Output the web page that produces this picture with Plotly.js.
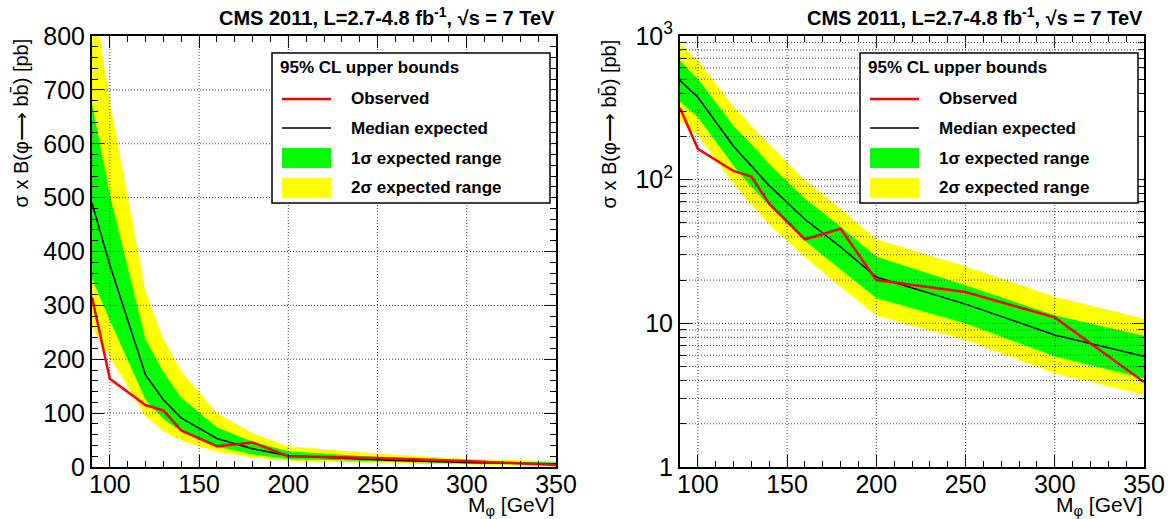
<!DOCTYPE html>
<html>
<head>
<meta charset="utf-8">
<script src="https://cdn.plot.ly/plotly-3.0.1.min.js"></script>
<style>
  html, body { margin: 0; padding: 0; background: #ffffff; }
  #chart { width: 1172px; height: 519px; }
</style>
</head>
<body>
<div id="chart"></div>
<script>
// ---- data ----
const mass = [90, 100, 120, 130, 140, 160, 180, 200, 250, 300, 350];
const observed = [315, 164, 115, 105, 68, 38.5, 45.5, 20, 16.5, 11, 3.9];
const expectedMedian = [490, 375, 171, 125, 91, 53, 34, 21, 13.6, 8.3, 5.9];
const sigma1Low = [350, 272, 125, 89, 66, 37.5, 23.7, 15, 10, 5.9, 4.15];
const sigma1High = [675, 505, 237, 177, 129, 74, 47, 29.2, 18.4, 11.4, 8.2];
const sigma2Low = [259, 203, 94, 67, 49, 29, 18, 11.4, 7.7, 4.5, 3.2];
const sigma2High = [890, 678, 325, 238, 178, 100, 63, 38.6, 25, 15.4, 10.8];

const linTickVals = [0, 100, 200, 300, 400, 500, 600, 700, 800];
const logTickVals = [1, 10, 100, 1000];
const logTickText = ['1', '10', '10<sup>2</sup>', '10<sup>3</sup>'];
const xTickVals = [100, 150, 200, 250, 300, 350];

const titleText = 'CMS 2011, L=2.7-4.8 fb<sup>-1</sup>, √s = 7 TeV';
const yTitleText = 'σ x B(φ⟶ bb\u0304) [pb]';
const xTitleText = 'M<sub>φ</sub> [GeV]';
const legendHeader = '95% CL upper bounds';
const legendLabels = ['Observed', 'Median expected', '1σ expected range', '2σ expected range'];

// ---- geometry ----
const W = 1172, H = 519;
const px = v => v / W;
const py = v => 1 - v / H;
const FONT = 'Liberation Sans, Arial, Helvetica, sans-serif';
const plots = [
  {xa: 'x', ya: 'y', left: 92, right: 556},
  {xa: 'x2', ya: 'y2', left: 680, right: 1144}
];
const TOP = 36, BOTTOM = 467;

const GREEN = '#00ff00', YELLOW = '#ffff00', RED = '#ff0000';

function band(lo, hi) {
  return {
    x: mass.concat(mass.slice().reverse()),
    y: hi.concat(lo.slice().reverse())
  };
}

const traces = [];
plots.forEach(p => {
  const b2 = band(sigma2Low, sigma2High);
  const b1 = band(sigma1Low, sigma1High);
  traces.push({x: b2.x, y: b2.y, xaxis: p.xa, yaxis: p.ya, type: 'scatter', mode: 'lines',
    fill: 'toself', fillcolor: YELLOW, line: {width: 0, color: YELLOW}, hoverinfo: 'skip', showlegend: false});
  traces.push({x: b1.x, y: b1.y, xaxis: p.xa, yaxis: p.ya, type: 'scatter', mode: 'lines',
    fill: 'toself', fillcolor: GREEN, line: {width: 0, color: GREEN}, hoverinfo: 'skip', showlegend: false});
  traces.push({x: mass, y: expectedMedian, xaxis: p.xa, yaxis: p.ya, type: 'scatter', mode: 'lines',
    line: {color: '#000000', width: 1.5}, showlegend: false});
  traces.push({x: mass, y: observed, xaxis: p.xa, yaxis: p.ya, type: 'scatter', mode: 'lines',
    line: {color: RED, width: 2.5}, showlegend: false});
});

const tickFont = {family: FONT, size: 25, color: '#000'};
function xAxis(p, yanchor) {
  return {
    domain: [px(p.left), px(p.right)], anchor: yanchor, range: [90, 350],
    tickmode: 'array', tickvals: xTickVals,
    ticks: 'inside', ticklen: 12, tickwidth: 1, tickcolor: '#000',
    showline: true, linewidth: 2, linecolor: '#000', mirror: 'allticks',
    showgrid: false, zeroline: false, tickfont: tickFont, layer: 'above traces',
    ticklabelstandoff: -6,
    minor: {dtick: 10, tick0: 0, ticks: 'inside', ticklen: 6, tickwidth: 1, tickcolor: '#000', showgrid: false},
    fixedrange: true, automargin: false
  };
}
const yDomain = [py(BOTTOM), py(TOP)];

const layout = {
  width: W, height: H,
  margin: {l: 0, r: 0, t: 0, b: 0, pad: 0},
  paper_bgcolor: '#ffffff', plot_bgcolor: '#ffffff',
  showlegend: false,
  xaxis: xAxis(plots[0], 'y'),
  xaxis2: xAxis(plots[1], 'y2'),
  yaxis: {
    domain: yDomain, anchor: 'x', range: [0, 800],
    tickmode: 'array', tickvals: linTickVals,
    ticks: 'inside', ticklen: 12, tickwidth: 1, tickcolor: '#000',
    showline: true, linewidth: 2, linecolor: '#000', mirror: 'allticks',
    showgrid: false, zeroline: false, tickfont: tickFont, layer: 'above traces',
    minor: {dtick: 20, tick0: 0, ticks: 'inside', ticklen: 6, tickwidth: 1, tickcolor: '#000', showgrid: false},
    fixedrange: true, automargin: false
  },
  yaxis2: {
    domain: yDomain, anchor: 'x2', type: 'log', range: [0, 3],
    tickmode: 'array', tickvals: logTickVals, ticktext: logTickText,
    ticks: 'inside', ticklen: 12, tickwidth: 1, tickcolor: '#000',
    showline: true, linewidth: 2, linecolor: '#000', mirror: 'allticks',
    showgrid: false, zeroline: false, tickfont: tickFont, layer: 'above traces',
    minor: {dtick: 'D1', ticks: 'inside', ticklen: 6, tickwidth: 1, tickcolor: '#000', showgrid: false},
    fixedrange: true, automargin: false
  },
  shapes: [],
  annotations: []
};

// ---- dotted grid drawn above the bands (as ROOT does) ----
const gridLine = {color: '#444', width: 1, dash: '1px,2px'};
plots.forEach((p, i) => {
  xTickVals.forEach(v => {
    if (v < 350) layout.shapes.push({type: 'line', layer: 'above', xref: p.xa, yref: p.ya + ' domain',
      x0: v, x1: v, y0: 0, y1: 1, line: gridLine});
  });
});
linTickVals.forEach(v => {
  if (v > 0 && v < 800) layout.shapes.push({type: 'line', layer: 'above', xref: 'x domain', yref: 'y',
    x0: 0, x1: 1, y0: v, y1: v, line: gridLine});
});
[1, 10, 100].forEach(dec => {
  for (let k = 1; k <= 9; k++) {
    const v = dec * k;
    if (v > 1 && v < 1000) layout.shapes.push({type: 'line', layer: 'above', xref: 'x2 domain', yref: 'y2',
      x0: 0, x1: 1, y0: v, y1: v, line: gridLine});
  }
});

// ---- titles ----
plots.forEach(p => {
  layout.annotations.push({text: '<b>' + titleText + '</b>', xref: 'paper', yref: 'paper',
    x: px(p.right + 1), y: py(17), xanchor: 'right', yanchor: 'middle', showarrow: false,
    font: {family: FONT, size: 20, color: '#000'}});
  layout.annotations.push({text: yTitleText, xref: 'paper', yref: 'paper', textangle: -90,
    x: px(p.left - 72), y: py(37), xanchor: 'center', yanchor: 'top', showarrow: false,
    font: {family: FONT, size: 20, color: '#000'}});
  layout.annotations.push({text: xTitleText, xref: 'paper', yref: 'paper',
    x: px(p.right + 1), y: py(521), xanchor: 'right', yanchor: 'bottom', showarrow: false,
    font: {family: FONT, size: 21, color: '#000'}});
});

// ---- legends ----
const legFont = {family: FONT, size: 17, color: '#000'};
plots.forEach(p => {
  const L = p.left + 180, R = p.left + 458, T = 53, B = 203;
  layout.shapes.push({type: 'rect', layer: 'above', xref: 'paper', yref: 'paper',
    x0: px(L), x1: px(R), y0: py(B), y1: py(T), fillcolor: '#ffffff', line: {color: '#000', width: 1.5}});
  layout.annotations.push({text: '<b>' + legendHeader + '</b>', xref: 'paper', yref: 'paper',
    x: px(L + 6), y: py(68), xanchor: 'left', yanchor: 'middle', showarrow: false, font: legFont});
  const rows = [99, 128, 158, 188];
  layout.shapes.push({type: 'line', layer: 'above', xref: 'paper', yref: 'paper',
    x0: px(L + 10), x1: px(L + 59), y0: py(rows[0]), y1: py(rows[0]), line: {color: RED, width: 2.5}});
  layout.shapes.push({type: 'line', layer: 'above', xref: 'paper', yref: 'paper',
    x0: px(L + 10), x1: px(L + 59), y0: py(rows[1]), y1: py(rows[1]), line: {color: '#000', width: 1.5}});
  layout.shapes.push({type: 'rect', layer: 'above', xref: 'paper', yref: 'paper',
    x0: px(L + 10), x1: px(L + 59), y0: py(rows[2] + 10), y1: py(rows[2] - 10), fillcolor: GREEN, line: {width: 0}});
  layout.shapes.push({type: 'rect', layer: 'above', xref: 'paper', yref: 'paper',
    x0: px(L + 10), x1: px(L + 59), y0: py(rows[3] + 10), y1: py(rows[3] - 10), fillcolor: YELLOW, line: {width: 0}});
  legendLabels.forEach((t, i) => {
    layout.annotations.push({text: '<b>' + t + '</b>', xref: 'paper', yref: 'paper',
      x: px(L + 77), y: py(rows[i]), xanchor: 'left', yanchor: 'middle', showarrow: false, font: legFont});
  });
});

Plotly.newPlot('chart', traces, layout, {displayModeBar: false, staticPlot: true});
</script>
</body>
</html>
